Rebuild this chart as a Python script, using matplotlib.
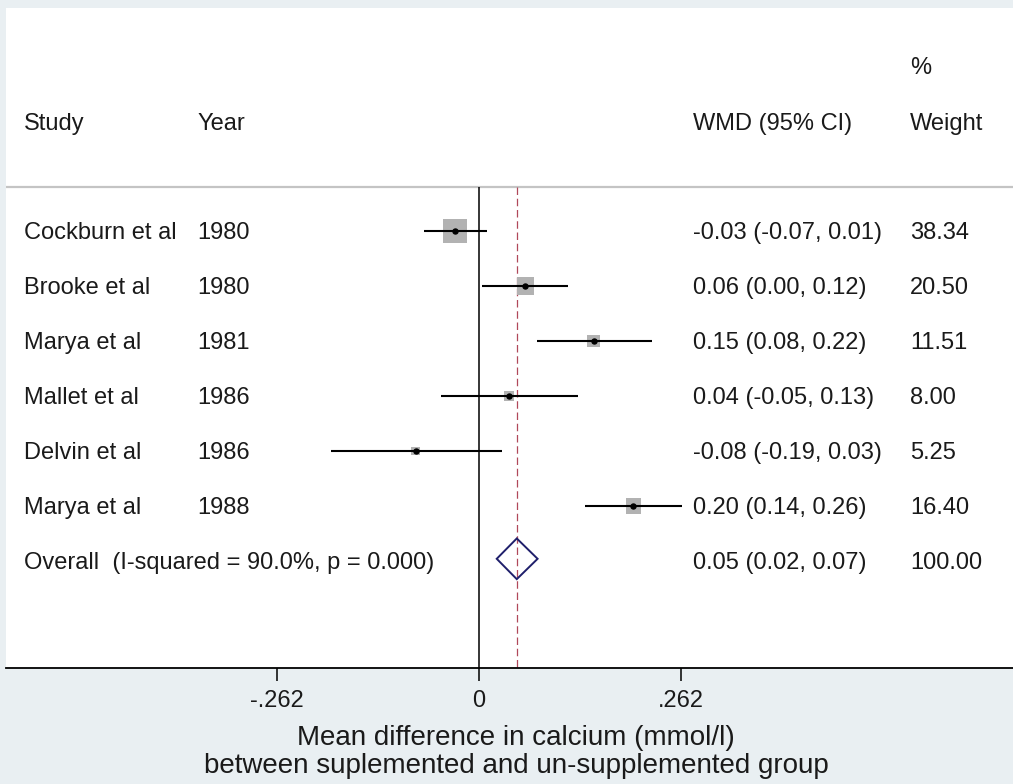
import matplotlib
matplotlib.use("Agg")
import matplotlib.pyplot as plt
from matplotlib.patches import Polygon
import numpy as np

plt.rcParams['font.family'] = ['Liberation Sans', 'DejaVu Sans']

# ---- data ----
studies = ["Cockburn et al", "Brooke et al", "Marya et al", "Mallet et al", "Delvin et al", "Marya et al"]
years = ["1980", "1980", "1981", "1986", "1986", "1988"]
est = [-0.031, 0.060, 0.149, 0.039, -0.082, 0.200]
lo = [-0.071, 0.004, 0.075, -0.049, -0.192, 0.137]
hi = [0.010, 0.115, 0.224, 0.128, 0.030, 0.263]
weights = [38.34, 20.50, 11.51, 8.00, 5.25, 16.40]
wmd_labels = ["-0.03 (-0.07, 0.01)", "0.06 (0.00, 0.12)", "0.15 (0.08, 0.22)",
              "0.04 (-0.05, 0.13)", "-0.08 (-0.19, 0.03)", "0.20 (0.14, 0.26)"]
weight_labels = ["38.34", "20.50", "11.51", "8.00", "5.25", "16.40"]
overall_label = "Overall  (I-squared = 90.0%, p = 0.000)"
overall_est, overall_lo, overall_hi = 0.049, 0.023, 0.076
overall_wmd = "0.05 (0.02, 0.07)"
overall_weight = "100.00"
xticks = [-0.262, 0, 0.262]
xtick_labels = ["-.262", "0", ".262"]
xlabel1 = "Mean difference in calcium (mmol/l)"
xlabel2 = "between suplemented and un-supplemented group"

# ---- figure ----
W, H = 1013, 784
fig = plt.figure(figsize=(W / 100, H / 100), dpi=100, facecolor='#e9eff2')

ax_l, ax_r, ax_t, ax_b = 6, 1013, 8, 668
ax = fig.add_axes([ax_l / W, (H - ax_b) / H, (ax_r - ax_l) / W, (ax_b - ax_t) / H])
ax.set_facecolor('white')

px_per_unit = 771.0
zero_px = 479.0
ax.set_xlim((ax_l - zero_px) / px_per_unit, (ax_r - zero_px) / px_per_unit)
row0, rowh = 231.0, 55.0
ax.set_ylim((ax_b - row0) / rowh, (ax_t - row0) / rowh)

for s in ['top', 'left', 'right']:
    ax.spines[s].set_visible(False)
ax.spines['bottom'].set_linewidth(1.3)
ax.set_yticks([])
ax.set_xticks(xticks)
ax.set_xticklabels(xtick_labels, fontsize=17, color='#1a1a1a')
ax.tick_params(axis='x', length=9, width=1.1, pad=7, color='black')

bottom_r = (ax_b - row0) / rowh
line_r = (187 - row0) / rowh

# header separator
ax.axhline(line_r, color='#c4c4c4', lw=1.6, zorder=1)
# zero line
ax.plot([0, 0], [line_r, bottom_r], color='black', lw=1.1, zorder=2, solid_capstyle='butt')
# overall dashed line
ax.plot([overall_est, overall_est], [line_r, bottom_r], color='#b0485a', lw=0.9,
        dashes=(6, 3), zorder=2)

n = len(studies)
rows = np.arange(n)
side_px = 23.5 * np.sqrt(np.array(weights) / max(weights))
side_pt = side_px * 0.72
ax.scatter(est, rows, marker='s', s=side_pt ** 2, color='#b2b2b2', edgecolors='none', zorder=3)
ax.hlines(rows, lo, hi, color='black', lw=1.5, zorder=4)
ax.plot(est, rows, 'o', color='black', ms=3.6, zorder=5)

# diamond
r_ov = n - 0.04
h = 0.37
diamond = Polygon([(overall_lo, r_ov), (overall_est, r_ov - h), (overall_hi, r_ov), (overall_est, r_ov + h)],
                  closed=True, fill=False, edgecolor='#1f1f6b', lw=1.4, zorder=5)
ax.add_patch(diamond)

# text columns (positions in pixels of the figure, baseline-aligned)
fs = 17
def fx(px):
    return px / W

def fy_base(center_px):
    return 1 - (center_px + 8.4) / H

x_study, x_year, x_wmd, x_wt = fx(24), fx(197), fx(693), fx(910)
kw = dict(fontsize=fs, va='baseline', ha='left', color='#1a1a1a')

fig.text(x_wt, fy_base(66), "%", **kw)
hr = fy_base(122)
fig.text(x_study, hr, "Study", **kw)
fig.text(x_year, hr, "Year", **kw)
fig.text(x_wmd, hr, "WMD (95% CI)", **kw)
fig.text(x_wt, hr, "Weight", **kw)

for i in range(n):
    y = fy_base(row0 + rowh * i)
    fig.text(x_study, y, studies[i], **kw)
    fig.text(x_year, y, years[i], **kw)
    fig.text(x_wmd, y, wmd_labels[i], **kw)
    fig.text(x_wt, y, weight_labels[i], **kw)

yo = fy_base(row0 + rowh * n)
fig.text(x_study, yo, overall_label, **kw)
fig.text(x_wmd, yo, overall_wmd, **kw)
fig.text(x_wt, yo, overall_weight, **kw)

# axis title
fig.text(516 / W, 1 - 738 / H, xlabel1, fontsize=20, ha='center', va='center', color='#1a1a1a')
fig.text(516 / W, 1 - 766 / H, xlabel2, fontsize=20, ha='center', va='center', color='#1a1a1a')

fig.savefig('out.png', dpi=100, facecolor=fig.get_facecolor())
